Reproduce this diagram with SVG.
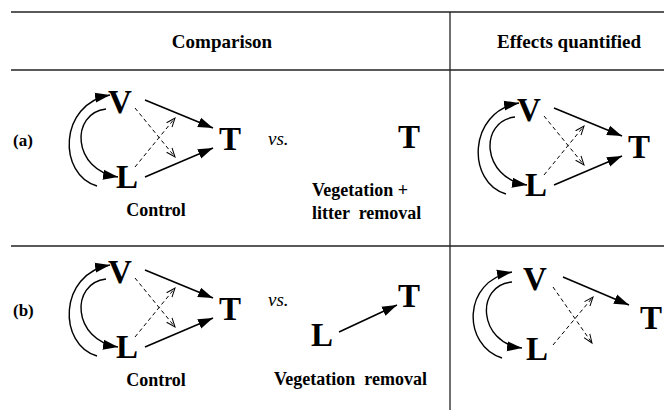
<svg xmlns="http://www.w3.org/2000/svg" width="664" height="410" viewBox="0 0 664 410">
<style>
.rule{stroke:#222;stroke-width:1.3;fill:none}
.lbl{font-family:"Liberation Serif","Times New Roman",serif;font-weight:bold;fill:#000}
.big{font-family:"Liberation Serif","Times New Roman",serif;font-weight:bold;font-size:33px;fill:#000;text-anchor:middle}
.hdr{font-size:19px;text-anchor:middle}
.cap{font-size:18px}
.vs{font-family:"Liberation Serif","Times New Roman",serif;font-style:italic;font-size:19px;fill:#000}
.solid{stroke:#000;stroke-width:1.6;fill:none;marker-end:url(#ah)}
.dash{stroke:#000;stroke-width:1;fill:none;stroke-dasharray:4 3;marker-end:url(#oh)}
.curve{stroke:#000;stroke-width:1.4;fill:none;marker-end:url(#ah)}
</style>
<defs>
<marker id="ah" markerUnits="userSpaceOnUse" markerWidth="17" markerHeight="12" refX="15" refY="5" orient="auto" viewBox="0 0 17 10">
<path d="M0,0 L15,5 L0,10 Z" fill="#000"/>
</marker>
<marker id="oh" markerUnits="userSpaceOnUse" markerWidth="12" markerHeight="10" refX="9" refY="4" orient="auto" viewBox="0 0 12 8">
<path d="M0,0.5 L9,4 L0,7.5" fill="none" stroke="#000" stroke-width="1"/>
</marker>
<g id="tri">
<text class="big" x="120" y="113">V</text>
<text class="big" x="230" y="150">T</text>
<text class="big" x="127" y="188">L</text>
</g>
</defs>

<g id="table">
<line class="rule" x1="11" y1="12" x2="664" y2="12"/>
<line class="rule" x1="11" y1="70" x2="664" y2="70"/>
<line class="rule" x1="11" y1="246" x2="664" y2="246"/>
<line class="rule" x1="450" y1="12" x2="450" y2="410"/>
</g>

<g id="headers">
<text class="lbl hdr" x="222" y="48">Comparison</text>
<text class="lbl hdr" x="569" y="48">Effects quantified</text>
</g>

<g id="row-a-label"><text class="lbl" font-size="17" x="13" y="146">(a)</text></g>
<g id="row-b-label"><text class="lbl" font-size="17" x="13" y="316">(b)</text></g>

<!-- Row (a) control -->
<g id="a-control">
<use href="#tri"/>
<text class="lbl cap" x="156" y="216" text-anchor="middle">Control</text>
</g>
<g id="a-control-connectors">
<line class="solid" x1="145" y1="100" x2="213" y2="128"/>
<line class="solid" x1="145" y1="177" x2="213" y2="148"/>
<line class="dash" x1="135" y1="108" x2="175" y2="157"/>
<line class="dash" x1="135" y1="167" x2="175" y2="118"/>
<path class="curve" d="M97,186 C58,175 58,104 110,95"/>
<path class="curve" d="M106,109 C70,113 72,170 118,177"/>
</g>

<g id="a-vs"><text class="vs" x="268" y="145">vs.</text></g>
<g id="a-removal">
<text class="big" x="409" y="148">T</text>
<text class="lbl cap" x="312" y="196">Vegetation +</text>
<text class="lbl cap" x="312" y="219" style="white-space:pre">litter  removal</text>
</g>

<!-- Row (a) effects -->
<g id="a-effects" transform="translate(409,8)">
<use href="#tri"/>
</g>
<g id="a-effects-connectors" transform="translate(409,8)">
<line class="solid" x1="145" y1="100" x2="213" y2="128"/>
<line class="solid" x1="145" y1="177" x2="213" y2="148"/>
<line class="dash" x1="135" y1="108" x2="175" y2="157"/>
<line class="dash" x1="135" y1="167" x2="175" y2="118"/>
<path class="curve" d="M97,186 C58,175 58,104 110,95"/>
<path class="curve" d="M106,109 C70,113 72,170 118,177"/>
</g>

<!-- Row (b) control -->
<g id="b-control" transform="translate(0,170)">
<use href="#tri"/>
<text class="lbl cap" x="156" y="216" text-anchor="middle">Control</text>
</g>
<g id="b-control-connectors" transform="translate(0,170)">
<line class="solid" x1="145" y1="100" x2="213" y2="128"/>
<line class="solid" x1="145" y1="177" x2="213" y2="148"/>
<line class="dash" x1="135" y1="108" x2="175" y2="157"/>
<line class="dash" x1="135" y1="167" x2="175" y2="118"/>
<path class="curve" d="M97,186 C58,175 58,104 110,95"/>
<path class="curve" d="M106,109 C70,113 72,170 118,177"/>
</g>

<g id="b-vs"><text class="vs" x="268" y="306">vs.</text></g>
<g id="b-removal">
<text class="big" x="322" y="346">L</text>
<text class="big" x="409" y="307">T</text>
<text class="lbl cap" x="274" y="385" style="white-space:pre">Vegetation  removal</text>
</g>
<g id="b-removal-connectors">
<line class="solid" x1="339" y1="332" x2="397" y2="305"/>
</g>

<!-- Row (b) effects -->
<g id="b-effects">
<text class="big" x="535" y="290">V</text>
<text class="big" x="651" y="329">T</text>
<text class="big" x="537" y="360">L</text>
</g>
<g id="b-effects-connectors">
<line class="solid" x1="563" y1="277" x2="629" y2="305"/>
<line class="dash" x1="553" y1="287" x2="592" y2="343"/>
<line class="dash" x1="553" y1="345" x2="593" y2="297"/>
<path class="curve" d="M502,358 C462,345 462,281 512,272"/>
<path class="curve" d="M512,282 C475,285 478,343 522,348"/>
</g>
</svg>
